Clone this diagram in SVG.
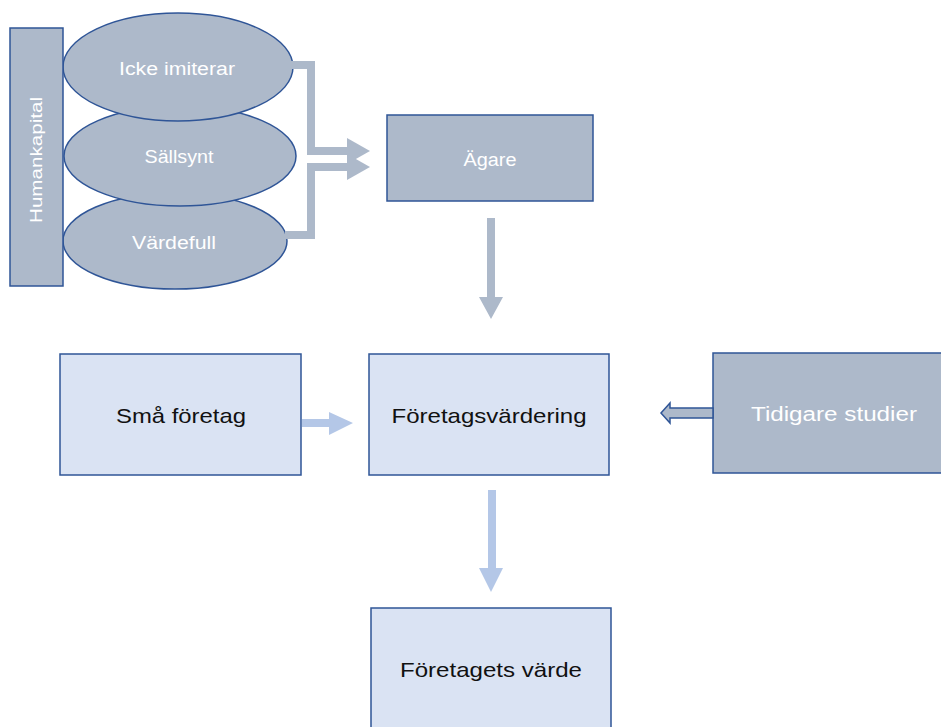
<svg xmlns="http://www.w3.org/2000/svg" width="941" height="727" viewBox="0 0 941 727">
<style>
.grey{fill:#adb9ca;stroke:#2f5597;stroke-width:1.5}
.light{fill:#dae3f3;stroke:#2f5597;stroke-width:1.5}
.wt{fill:#ffffff;font-family:"Liberation Sans",Arial,sans-serif;text-anchor:middle}
.bt{fill:#111111;font-family:"Liberation Sans",Arial,sans-serif;text-anchor:middle;font-size:21px}
.band{fill:none;stroke:#adb9ca;stroke-width:8}
</style>
<rect width="941" height="727" fill="#ffffff"/>
<g id="vardefull">
<ellipse class="grey" cx="175" cy="241" rx="112" ry="48"/>
<text class="wt" x="174" y="249" font-size="18" textLength="84" lengthAdjust="spacingAndGlyphs">Värdefull</text>
</g>
<g id="sallsynt">
<ellipse class="grey" cx="180" cy="156" rx="116" ry="50"/>
<text class="wt" x="179" y="163" font-size="18" textLength="69" lengthAdjust="spacingAndGlyphs">Sällsynt</text>
</g>
<g id="icke-imiterar">
<ellipse class="grey" cx="178" cy="67" rx="115" ry="54"/>
<text class="wt" x="177" y="75" font-size="18" textLength="116" lengthAdjust="spacingAndGlyphs">Icke imiterar</text>
</g>
<g id="humankapital">
<rect class="grey" x="10" y="28" width="53" height="258"/>
<text class="wt" font-size="17" textLength="126" lengthAdjust="spacingAndGlyphs" transform="translate(42,160) rotate(-90)">Humankapital</text>
</g>
<g id="agare">
<rect class="grey" x="387" y="115" width="206" height="86"/>
<text class="wt" x="490" y="166" font-size="18" textLength="53" lengthAdjust="spacingAndGlyphs">Ägare</text>
</g>
<g id="sma-foretag">
<rect class="light" x="60" y="354" width="241" height="121"/>
<text class="bt" x="181" y="423" textLength="130" lengthAdjust="spacingAndGlyphs">Små företag</text>
</g>
<g id="foretagsvardering">
<rect class="light" x="369" y="354" width="240" height="121"/>
<text class="bt" x="489" y="423" textLength="195" lengthAdjust="spacingAndGlyphs">Företagsvärdering</text>
</g>
<g id="tidigare-studier">
<rect class="grey" x="713" y="353" width="240" height="120"/>
<text class="wt" x="834" y="421" font-size="20" textLength="166" lengthAdjust="spacingAndGlyphs">Tidigare studier</text>
</g>
<g id="foretagets-varde">
<rect class="light" x="371" y="608" width="240" height="130"/>
<text class="bt" x="491" y="677" textLength="182" lengthAdjust="spacingAndGlyphs">Företagets värde</text>
</g>
<g id="connectors">
<path class="band" d="M291 65 H311 V151 H348"/>
<polygon fill="#adb9ca" points="347,138 370,151 347,164"/>
<path class="band" d="M285 235 H311 V167 H348"/>
<polygon fill="#adb9ca" points="347,154 370,167 347,180"/>
<polygon fill="#adb9ca" points="487,218 495,218 495,297 503,297 491,319 479,297 487,297"/>
<polygon fill="#b4c7e7" points="302,419 329,419 329,412 353,423 329,435 329,427 302,427"/>
<polygon fill="#adb9ca" stroke="#2f5597" stroke-width="1.5" points="713,408 670,408 670,403 661,413 670,423 670,418 713,418"/>
<polygon fill="#b4c7e7" points="488,490 496,490 496,568 503,568 491,592 479,568 488,568"/>
</g>
</svg>
